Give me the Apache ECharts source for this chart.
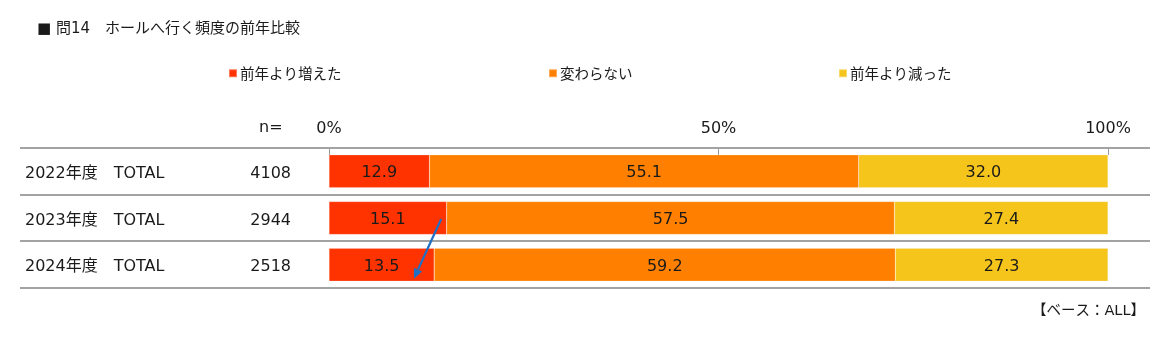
<!DOCTYPE html>
<html><head><meta charset="utf-8">
<script src="https://cdn.jsdelivr.net/npm/echarts@6/dist/echarts.min.js"></script>
<style>html,body{margin:0;padding:0;background:#fff}#c{width:1176px;height:339px}</style>
</head><body><div id="c"></div>
<script>
const categories = ['2022年度', '2023年度', '2024年度'];
const sampleSizes = [4108, 2944, 2518];
const seriesNames = ['前年より増えた', '変わらない', '前年より減った'];
const increased = [12.9, 15.1, 13.5];
const unchanged = [55.1, 57.5, 59.2];
const decreased = [32.0, 27.4, 27.3];
const xTicks = [0, 50, 100];

const FONT = '"DejaVu Sans", "Noto Sans CJK JP", sans-serif';
const JFONT = '"Noto Sans CJK JP", sans-serif';
const colors = ['#FF3300', '#FF8000', '#F5C51C'];
const chart = echarts.init(document.getElementById('c'), null, {renderer: 'canvas'});

const G = {left: 329, right: 68, top: 148, height: 140};

function mkSeries(name, data, color) {
  return {
    name, type: 'bar', stack: 'all', data, barWidth: 33,
    itemStyle: {color, borderColor: 'rgba(255,255,255,0.35)', borderWidth: 0.5},
    label: {show: true, position: 'inside', offset: [0, 2], fontFamily: FONT, fontSize: 16, color: '#1a1a1a',
      formatter: p => p.value.toFixed(1)},
    emphasis: {disabled: true}, animation: false
  };
}

function legendAt(name, x) {
  return {data: [name], left: x, top: 61, icon: 'rect', itemWidth: 8, itemHeight: 8, itemGap: 5,
    textStyle: {fontFamily: JFONT, fontSize: 14.5, color: '#1a1a1a', padding: [0, 0, 0, -2]}, selectedMode: false};
}

const option = {
  backgroundColor: '#fff',
  animation: false,
  legend: [legendAt(seriesNames[0], 223), legendAt(seriesNames[1], 543), legendAt(seriesNames[2], 833)],
  grid: {left: G.left, right: G.right, top: G.top, height: G.height},
  xAxis: {
    type: 'value', position: 'top', min: 0, max: 100, interval: 50,
    axisLine: {show: false},
    axisTick: {show: true, inside: true, length: 7, lineStyle: {color: '#999', width: 1}},
    splitLine: {show: false},
    axisLabel: {margin: 11, fontFamily: FONT, fontSize: 16, color: '#1a1a1a',
      formatter: v => xTicks.includes(v) ? v + '%' : ''}
  },
  yAxis: {
    type: 'category', inverse: true, data: categories,
    axisLine: {show: false}, axisTick: {show: false},
    axisLabel: {
      margin: 304, align: 'left', fontFamily: FONT, fontSize: 16, color: '#1a1a1a',
      padding: [5, 0, 0, 0],
      formatter: (v, i) => '{a|' + v + '　TOTAL}{n|' + sampleSizes[i] + '}',
      rich: {
        a: {width: 226, fontFamily: FONT, fontSize: 16, color: '#1a1a1a'},
        n: {width: 40, align: 'right', fontFamily: FONT, fontSize: 16, color: '#1a1a1a'}
      }
    }
  },
  series: [
    mkSeries(seriesNames[0], increased, colors[0]),
    mkSeries(seriesNames[1], unchanged, colors[1]),
    mkSeries(seriesNames[2], decreased, colors[2])
  ]
};
chart.setOption(option);

// decorations
const graphics = [];
graphics.push({type: 'text', left: 37, top: 22, style: {text: '■ 問14　ホールへ行く頻度の前年比較', font: '15px ' + FONT, fill: '#1a1a1a'}});
graphics.push({type: 'text', left: 259, top: 120, style: {text: 'n=', font: '16px ' + FONT, fill: '#1a1a1a'}});
graphics.push({type: 'text', right: 31, top: 304, style: {text: '【ベース：ALL】', font: '14.5px ' + FONT, fill: '#1a1a1a'}});
for (let k = 0; k <= categories.length; k++) {
  const y = Math.round(G.top + k * G.height / categories.length);
  graphics.push({type: 'line', shape: {x1: 20, y1: y, x2: 1150, y2: y}, style: {stroke: '#a3a3a3', lineWidth: 2}, z: 1});
}
// arrow annotation from 2023 bar to 2024 bar
const band = G.height / categories.length;
const s = chart.convertToPixel({gridIndex: 0}, [14.4, 1]);
const e = chart.convertToPixel({gridIndex: 0}, [10.9, 2]);
const x1 = s[0], y1 = s[1] + 1, x2 = e[0], y2 = e[1] + 0.3 * band;
const ang = Math.atan2(y2 - y1, x2 - x1);
const hl = 10, hw = 4.5;
const bx = x2 - hl * Math.cos(ang), by = y2 - hl * Math.sin(ang);
graphics.push({type: 'line', shape: {x1, y1, x2: bx, y2: by}, style: {stroke: '#1f6fc5', lineWidth: 2.2}, z: 100});
graphics.push({type: 'polygon', shape: {points: [[x2, y2],
  [bx + hw * Math.sin(ang), by - hw * Math.cos(ang)],
  [bx - hw * Math.sin(ang), by + hw * Math.cos(ang)]]}, style: {fill: '#1f6fc5'}, z: 100});
chart.setOption({graphic: graphics});
</script></body></html>
